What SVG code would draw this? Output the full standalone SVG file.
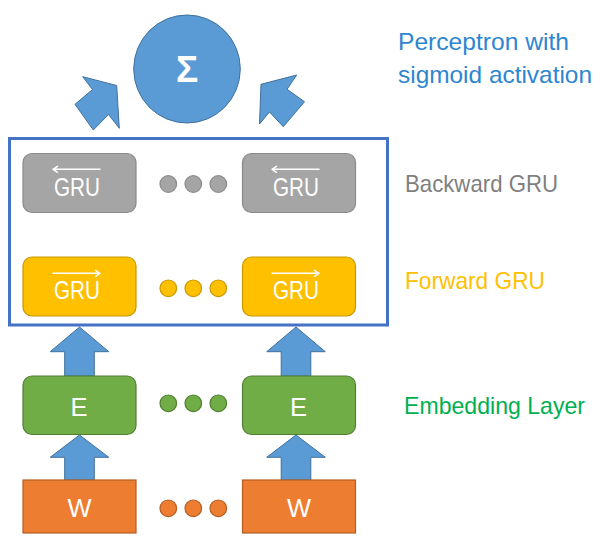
<svg xmlns="http://www.w3.org/2000/svg" width="595" height="537" viewBox="0 0 595 537">
<style>
  text { font-family: "Liberation Sans", Arial, sans-serif; }
  .box-label { fill: #ffffff; font-size: 25.5px; text-anchor: middle; }
  .gray { fill: #A5A5A5; stroke: #8A8A8A; stroke-width: 1.2; }
  .yellow { fill: #FFC000; stroke: #C89800; stroke-width: 1.2; }
  .green { fill: #70AD47; stroke: #507E32; stroke-width: 1.2; }
  .orange { fill: #ED7D31; stroke: #B55D22; stroke-width: 1.2; }
  .barrow { fill: #5B9BD5; stroke: #41719C; stroke-width: 1; stroke-linejoin: miter; }
  .ovl { fill: none; stroke: #ffffff; stroke-width: 1.4; stroke-linecap: round; stroke-linejoin: round; }
  .side { font-size: 24px; }
</style>

<g id="frame">
  <rect x="9.5" y="138.5" width="378" height="186.5" fill="none" stroke="#4472C4" stroke-width="3"/>
</g>

<g id="perceptron">
  <ellipse cx="187" cy="69" rx="53.3" ry="54" fill="#5B9BD5" stroke="#41719C" stroke-width="1"/>
  <text x="187" y="82" fill="#ffffff" font-size="37" font-weight="bold" text-anchor="middle">Σ</text>
</g>

<g id="connectors">
  <polygon class="barrow" points="82.7,76.7 116.7,85.5 119.3,128.3 108.5,114.5 93.3,130 75,104.3 92.5,89.5"/>
  <polygon class="barrow" points="296.7,75 261,84.3 259.5,124 269.5,112 283.3,126.7 304.5,101.7 287,89.3"/>
  <polygon class="barrow" points="79.5,327 108.8,351.7 94.3,351.7 94.3,376 64.7,376 64.7,351.7 50.2,351.7"/>
  <polygon class="barrow" points="296,327 325.3,351.7 310.8,351.7 310.8,376 281.2,376 281.2,351.7 266.7,351.7"/>
  <polygon class="barrow" points="79.5,435 108.8,457.3 94.3,457.3 94.3,480 64.7,480 64.7,457.3 50.2,457.3"/>
  <polygon class="barrow" points="296,435 325.3,457.3 310.8,457.3 310.8,480 281.2,480 281.2,457.3 266.7,457.3"/>
</g>

<g id="bgru-1">
  <rect class="gray" x="23" y="153.5" width="113" height="59" rx="9"/>
  <path class="ovl" d="M53,169.3 H100 M53,169.3 l4.5,-3 M53,169.3 l4.5,3"/>
  <text class="box-label" x="77" y="195.5" textLength="46" lengthAdjust="spacingAndGlyphs">GRU</text>
</g>
<g id="bgru-dots">
  <circle class="gray" cx="168.3" cy="184" r="8.3"/>
  <circle class="gray" cx="193.3" cy="184" r="8.3"/>
  <circle class="gray" cx="218.3" cy="184" r="8.3"/>
</g>
<g id="bgru-n">
  <rect class="gray" x="242.5" y="153.5" width="113" height="59" rx="9"/>
  <path class="ovl" d="M272,169.3 H319 M272,169.3 l4.5,-3 M272,169.3 l4.5,3"/>
  <text class="box-label" x="296" y="195.5" textLength="46" lengthAdjust="spacingAndGlyphs">GRU</text>
</g>

<g id="fgru-1">
  <rect class="yellow" x="23" y="257" width="113" height="59" rx="9"/>
  <path class="ovl" d="M53,273.3 H100 M100,273.3 l-4.5,-3 M100,273.3 l-4.5,3"/>
  <text class="box-label" x="77" y="299" textLength="46" lengthAdjust="spacingAndGlyphs">GRU</text>
</g>
<g id="fgru-dots">
  <circle class="yellow" cx="168.3" cy="288.3" r="8.3"/>
  <circle class="yellow" cx="193.3" cy="288.3" r="8.3"/>
  <circle class="yellow" cx="218.3" cy="288.3" r="8.3"/>
</g>
<g id="fgru-n">
  <rect class="yellow" x="242.5" y="257" width="113" height="59" rx="9"/>
  <path class="ovl" d="M272,273.3 H319 M319,273.3 l-4.5,-3 M319,273.3 l-4.5,3"/>
  <text class="box-label" x="296" y="299" textLength="46" lengthAdjust="spacingAndGlyphs">GRU</text>
</g>

<g id="emb-1">
  <rect class="green" x="23" y="376" width="113" height="58.5" rx="9"/>
  <text class="box-label" x="79" y="415.5">E</text>
</g>
<g id="emb-dots">
  <circle class="green" cx="168.3" cy="403.3" r="8.3"/>
  <circle class="green" cx="193.3" cy="403.3" r="8.3"/>
  <circle class="green" cx="218.3" cy="403.3" r="8.3"/>
</g>
<g id="emb-n">
  <rect class="green" x="242.5" y="376" width="113" height="58.5" rx="9"/>
  <text class="box-label" x="298.5" y="415.5">E</text>
</g>

<g id="word-1">
  <rect class="orange" x="23" y="480" width="113" height="53"/>
  <text class="box-label" x="79.5" y="516.5">W</text>
</g>
<g id="word-dots">
  <circle class="orange" cx="168.3" cy="508.3" r="8.3"/>
  <circle class="orange" cx="193.3" cy="508.3" r="8.3"/>
  <circle class="orange" cx="218.3" cy="508.3" r="8.3"/>
</g>
<g id="word-n">
  <rect class="orange" x="242.5" y="480" width="113" height="53"/>
  <text class="box-label" x="299" y="516.5">W</text>
</g>

<g id="labels">
  <text class="side" x="398" y="50" fill="#2E86D0" textLength="171" lengthAdjust="spacingAndGlyphs">Perceptron with</text>
  <text class="side" x="398" y="83" fill="#2E86D0" textLength="194" lengthAdjust="spacingAndGlyphs">sigmoid activation</text>
  <text class="side" x="405" y="191.5" fill="#7F7F7F" textLength="153" lengthAdjust="spacingAndGlyphs">Backward GRU</text>
  <text class="side" x="405" y="288.5" fill="#FFC000" textLength="140" lengthAdjust="spacingAndGlyphs">Forward GRU</text>
  <text class="side" x="404" y="413.5" fill="#00B050" textLength="181" lengthAdjust="spacingAndGlyphs">Embedding Layer</text>
</g>
</svg>
